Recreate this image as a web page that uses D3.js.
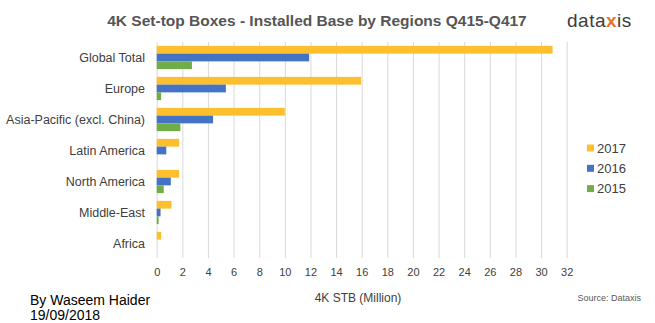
<!DOCTYPE html>
<html>
<head>
<meta charset="utf-8">
<script src="https://cdn.jsdelivr.net/npm/d3@7"></script>
<style>
  body { margin: 0; background: #fff; }
  svg { display: block; font-family: "Liberation Sans", Arial, Helvetica, sans-serif; }
</style>
</head>
<body>
<svg id="chart" width="655" height="323"></svg>
<script>
// installed base of 4K set-top boxes, millions
const regions = ["Global Total", "Europe", "Asia-Pacific (excl. China)", "Latin America",
  "North America", "Middle-East", "Africa"];
const years = ["2017", "2016", "2015"];
const v2017 = [30.9, 15.95, 10.0, 1.75, 1.75, 1.15, 0.35];
const v2016 = [11.9, 5.4, 4.4, 0.75, 1.1, 0.3, 0];
const v2015 = [2.75, 0.35, 1.85, 0, 0.55, 0.15, 0];
const xTicks = d3.range(0, 33, 2);

const colors = { "2017": "#fdbf2d", "2016": "#4472c4", "2015": "#70ad47" };
const series = { "2017": v2017, "2016": v2016, "2015": v2015 };

const svg = d3.select("#chart");

const plotLeft = 156.7, plotRight = 566.7, plotTop = 42, plotBottom = 259;

const x = d3.scaleLinear().domain([0, 32]).range([plotLeft, plotRight]);
const y = d3.scaleBand().domain(regions).range([plotTop, plotBottom]).paddingInner(0.25).paddingOuter(0.125);
const ySub = d3.scaleBand().domain(years).range([0, y.bandwidth()]);

// gridlines
svg.append("g")
  .selectAll("line")
  .data(xTicks)
  .join("line")
  .attr("x1", d => x(d) + 0.5)
  .attr("x2", d => x(d) + 0.5)
  .attr("y1", plotTop)
  .attr("y2", 258)
  .attr("stroke", "#d9d9d9")
  .attr("stroke-width", 1);

// bars
const groups = svg.append("g")
  .selectAll("g")
  .data(regions)
  .join("g")
  .attr("transform", d => `translate(0,${y(d)})`);

groups.selectAll("rect")
  .data((d, i) => years.map(yr => ({ yr, v: series[yr][i] })))
  .join("rect")
  .attr("x", x(0))
  .attr("y", d => ySub(d.yr))
  .attr("width", d => x(d.v) - x(0))
  .attr("height", ySub.bandwidth())
  .attr("fill", d => colors[d.yr]);

// category labels
svg.append("g")
  .selectAll("text")
  .data(regions)
  .join("text")
  .attr("x", 145)
  .attr("y", d => y(d) + y.bandwidth() / 2)
  .attr("text-anchor", "end")
  .attr("dominant-baseline", "central")
  .attr("font-size", 12.5)
  .attr("fill", "#404040")
  .text(d => d);

// x axis tick labels
const xAxis = d3.axisBottom(x).tickValues(xTicks).tickSize(0).tickPadding(0);
const ax = svg.append("g").attr("transform", "translate(0,268)").call(xAxis);
ax.select(".domain").remove();
ax.selectAll("text")
  .attr("font-size", 11)
  .attr("fill", "#404040")
  .attr("font-family", "Liberation Sans, Arial, sans-serif");

svg.append("text")
  .attr("x", 358).attr("y", 302)
  .attr("text-anchor", "middle")
  .attr("font-size", 12)
  .attr("fill", "#404040")
  .text("4K STB (Million)");

svg.append("text")
  .attr("x", 641).attr("y", 301)
  .attr("text-anchor", "end")
  .attr("font-size", 9)
  .attr("fill", "#595959")
  .text("Source: Dataxis");

// title
svg.append("text")
  .attr("x", 317).attr("y", 26)
  .attr("text-anchor", "middle")
  .attr("font-size", 15.5)
  .attr("font-weight", "bold")
  .attr("fill", "#555")
  .text("4K Set-top Boxes - Installed Base by Regions Q415-Q417");

// dataxis mark
const logo = svg.append("text")
  .attr("x", 567).attr("y", 27)
  .attr("font-size", 19)
  .attr("fill", "#3c3c3c")
  .attr("letter-spacing", 0.5);
logo.append("tspan").text("data");
logo.append("tspan").attr("fill", "#e8742a").attr("font-weight", "bold").text("x");
logo.append("tspan").text("is");

// legend
const legend = svg.append("g")
  .selectAll("g")
  .data(years)
  .join("g")
  .attr("transform", (d, i) => `translate(587,${148 + i * 20.3})`);
legend.append("rect")
  .attr("x", 0).attr("y", -3.5)
  .attr("width", 7).attr("height", 7)
  .attr("fill", d => colors[d]);
legend.append("text")
  .attr("x", 10).attr("y", 0)
  .attr("dominant-baseline", "central")
  .attr("font-size", 13)
  .attr("fill", "#404040")
  .text(d => d);

// byline
svg.append("text")
  .attr("x", 30).attr("y", 305)
  .attr("font-size", 14)
  .attr("fill", "#000")
  .text("By Waseem Haider");
svg.append("text")
  .attr("x", 30).attr("y", 320)
  .attr("font-size", 14)
  .attr("fill", "#000")
  .text("19/09/2018");
</script>
</body>
</html>
